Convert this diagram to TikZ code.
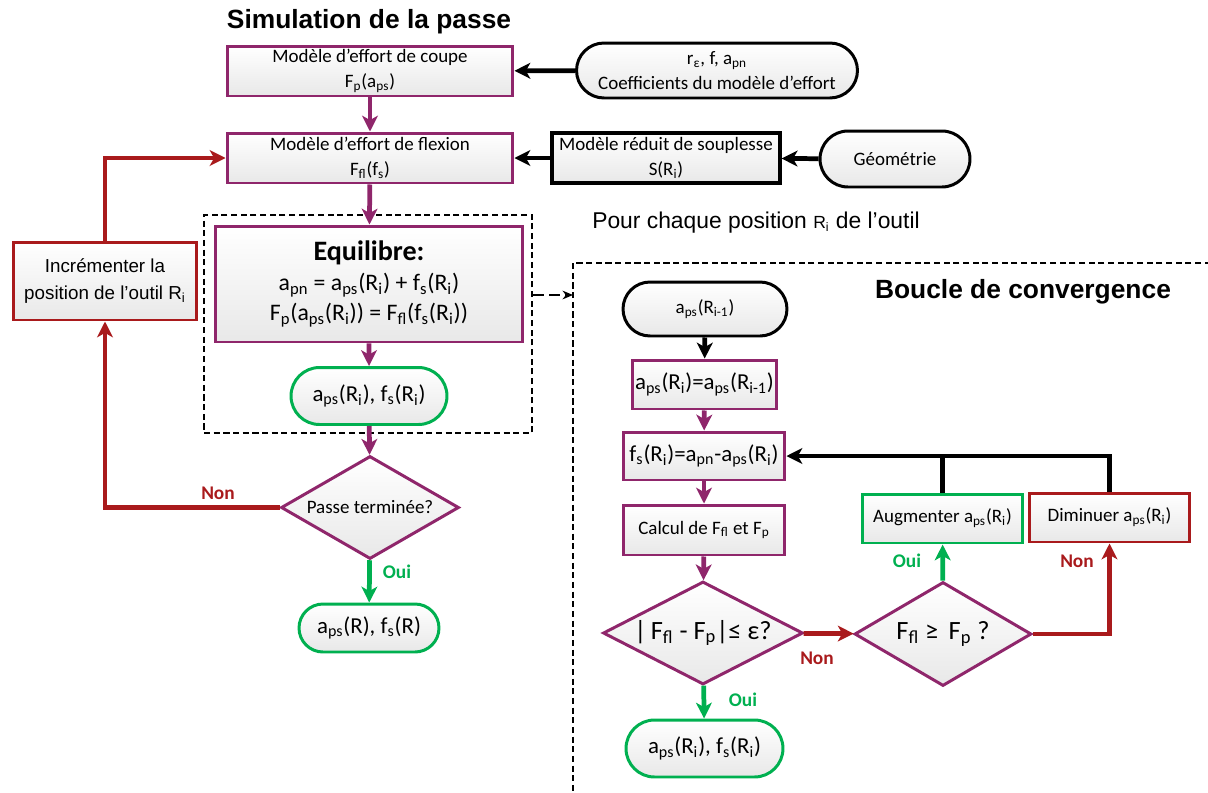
\documentclass[tikz,border=0pt]{standalone}
\usepackage{fontspec}
\setmainfont{Carlito}
\newfontfamily\arialfont{Liberation Sans}
\usetikzlibrary{arrows.meta, shapes.geometric, shapes.misc, positioning, calc}
\definecolor{flowpurple}{RGB}{143,38,107}
\definecolor{loopred}{RGB}{169,26,28}
\definecolor{okgreen}{RGB}{0,176,80}
\newcommand{\low}[1]{\textsubscript{#1}}
\newcommand{\Ri}{R\low{i}}

\begin{document}
\begin{tikzpicture}[x=0.02cm, y=-0.02cm,
    base/.style={align=center, inner sep=0pt, top color=white, bottom color=black!9,
                 font=\fontsize{10.8}{14.5}\selectfont},
    pbox/.style={base, draw=flowpurple, line width=1.7pt},
    kbox/.style={base, draw=black, line width=1.9pt},
    rbox/.style={base, draw=loopred, line width=1.7pt},
    gbox/.style={base, draw=okgreen, line width=1.7pt},
    term/.style={base, rounded rectangle, draw=black, line width=1.7pt},
    gterm/.style={term, draw=okgreen},
    test/.style={base, diamond, draw=flowpurple, line width=1.7pt},
    frame/.style={draw, line width=1.6pt, dash pattern=on 3.5pt off 2pt},
    title/.style={font={\arialfont\bfseries\fontsize{15}{18}\selectfont}},
    oui/.style={font={\bfseries\fontsize{11}{13}\selectfont}, text=okgreen},
    non/.style={font={\bfseries\fontsize{11}{13}\selectfont}, text=loopred},
    arr/.style={line width=2.7pt, -{Stealth[length=9pt,width=9pt,inset=2.5pt]}},
    parr/.style={arr, color=flowpurple},
    rarr/.style={arr, color=loopred},
    garr/.style={arr, color=okgreen},
    dasharr/.style={line width=0.8pt, dash pattern=on 6pt off 3pt, -{Stealth[length=6pt,width=5pt]}}
  ]
    \useasboundingbox (0,0) rectangle (1208,792);

    % simulation de la passe
    \node[title] (simtitle) at (369,22) {Simulation de la passe};
    \node[pbox, minimum width=5.72cm, minimum height=1.0cm] (coupe) at (370,71)
        {Modèle d’effort de coupe\\F\low{p}(a\low{ps})};
    \node[term, minimum width=5.62cm, minimum height=1.1cm] (coeff) at (717,70.5)
        {r\low{ε}, f, a\low{pn}\\Coefficients du modèle d’effort};
    \node[pbox, minimum width=5.72cm, minimum height=1.0cm] (flexion) at (370,158)
        {Modèle d’effort de flexion\\F\low{fl}(f\low{s})};
    \node[kbox, minimum width=4.56cm, minimum height=1.0cm] (souplesse) at (666,158)
        {Modèle réduit de souplesse\\S(\Ri)};
    \node[term, minimum width=3.0cm, minimum height=1.12cm] (geom) at (895,159) {Géométrie};

    \node[frame, minimum width=6.56cm, minimum height=4.36cm] (equiframe) at (368,324) {};
    \node[pbox, minimum width=6.16cm, minimum height=2.32cm,
          font=\fontsize{13.5}{17}\selectfont] (equi) at (369,284)
        {{\fontsize{16}{19}\selectfont\bfseries Equilibre:}\\
         a\low{pn} = a\low{ps}(\Ri) + f\low{s}(\Ri)\\
         F\low{p}(a\low{ps}(\Ri)) = F\low{fl}(f\low{s}(\Ri))};
    \node[gterm, minimum width=3.12cm, minimum height=1.14cm,
          font=\fontsize{13}{15}\selectfont] (sol) at (369,396)
        {a\low{ps}(\Ri), f\low{s}(\Ri)};
    \node[test, aspect=1.73, minimum width=3.56cm, minimum height=2.06cm] (passe) at (370,507.5)
        {Passe terminée?};
    \node[gterm, minimum width=2.8cm, minimum height=0.96cm,
          font=\fontsize{13}{15}\selectfont] (final) at (369,628)
        {a\low{ps}(R), f\low{s}(R)};
    \node[rbox, minimum width=3.68cm, minimum height=1.56cm,
          font={\arialfont\fontsize{10.7}{15}\selectfont}] (incr) at (105,281)
        {Incrémenter la\\position de l’outil \Ri};

    \draw[arr] (coeff) -- (coupe);
    \draw[parr] (coupe) -- (flexion);
    \draw[arr] (geom) -- (souplesse);
    \draw[arr] (souplesse) -- (flexion);
    \draw[parr] (flexion) -- (equi);
    \draw[parr] (equi) -- (sol);
    \draw[parr] (sol) -- (passe);
    \draw[garr] (passe) -- (final);
    \draw[rarr] (passe.west) -| (incr.south);
    \draw[rarr] (incr.north) |- (flexion.west);
    \node[non] (nonpasse) at (218,493) {Non};
    \node[oui] (ouipasse) at (397,572) {Oui};

    % boucle de convergence
    \node[font={\arialfont\fontsize{13}{15}\selectfont}] (pourchaque) at (756,223)
        {Pour chaque position {\fontsize{10}{12}\selectfont\Ri} de l’outil};
    \coordinate (loopcorner) at (573,263);
    \coordinate (loopin) at (573,295);
    \draw[frame] (1230,263) -- (loopcorner) -- (573,810);
    \draw[dasharr] (equiframe.east |- loopin) -- (loopin);
    \node[title] (looptitle) at (1023,292) {Boucle de convergence};

    \node[term, minimum width=3.28cm, minimum height=1.08cm] (prev) at (705,309)
        {a\low{ps}(R\low{i-1})};
    \node[pbox, minimum width=2.9cm, minimum height=0.98cm,
          font=\fontsize{13}{15}\selectfont] (init) at (704.5,384.5)
        {a\low{ps}(\Ri)=a\low{ps}(R\low{i-1})};
    \node[pbox, minimum width=3.24cm, minimum height=0.96cm,
          font=\fontsize{13}{15}\selectfont] (fsbox) at (704,456)
        {f\low{s}(\Ri)=a\low{pn}-a\low{ps}(\Ri)};
    \node[pbox, minimum width=3.24cm, minimum height=1.0cm] (calcul) at (704,530)
        {Calcul de F\low{fl} et F\low{p}};
    \node[test, aspect=1.94, minimum width=4.0cm, minimum height=2.06cm,
          font=\fontsize{15}{17}\selectfont] (ecart) at (703,633)
        {|\,F\low{fl} - F\low{p}|≤ ε?};
    \node[gterm, minimum width=3.14cm, minimum height=1.14cm,
          font=\fontsize{13}{15}\selectfont] (conv) at (704.5,748.5)
        {a\low{ps}(\Ri), f\low{s}(\Ri)};
    \node[test, aspect=1.7, minimum width=3.54cm, minimum height=2.08cm,
          font=\fontsize{15}{17}\selectfont] (compare) at (943,634)
        {F\low{fl} ≥\, F\low{p} ?};
    \node[gbox, minimum width=3.22cm, minimum height=0.98cm] (augm) at (942.5,518.5)
        {Augmenter a\low{ps}(\Ri)};
    \node[rbox, minimum width=3.22cm, minimum height=0.98cm] (dimin) at (1109.5,517.5)
        {Diminuer a\low{ps}(\Ri)};

    \draw[arr] (prev) -- (init);
    \draw[parr] (init) -- (fsbox);
    \draw[parr] (fsbox) -- (calcul);
    \draw[parr] (calcul) -- (ecart);
    \draw[garr] (ecart) -- (conv);
    \draw[rarr] (ecart) -- (compare);
    \draw[garr] (compare) -- (augm);
    \draw[rarr] (compare.east) -| (dimin.south);
    \draw[line width=2.7pt] (augm.north) -- (augm.north |- fsbox.east);
    \draw[arr] (dimin.north) |- (fsbox.east);
    \node[oui] (ouiecart) at (743,700) {Oui};
    \node[non] (nonecart) at (817,658) {Non};
    \node[oui] (ouicomp) at (907,561) {Oui};
    \node[non] (noncomp) at (1077,561) {Non};
\end{tikzpicture}
\end{document}
